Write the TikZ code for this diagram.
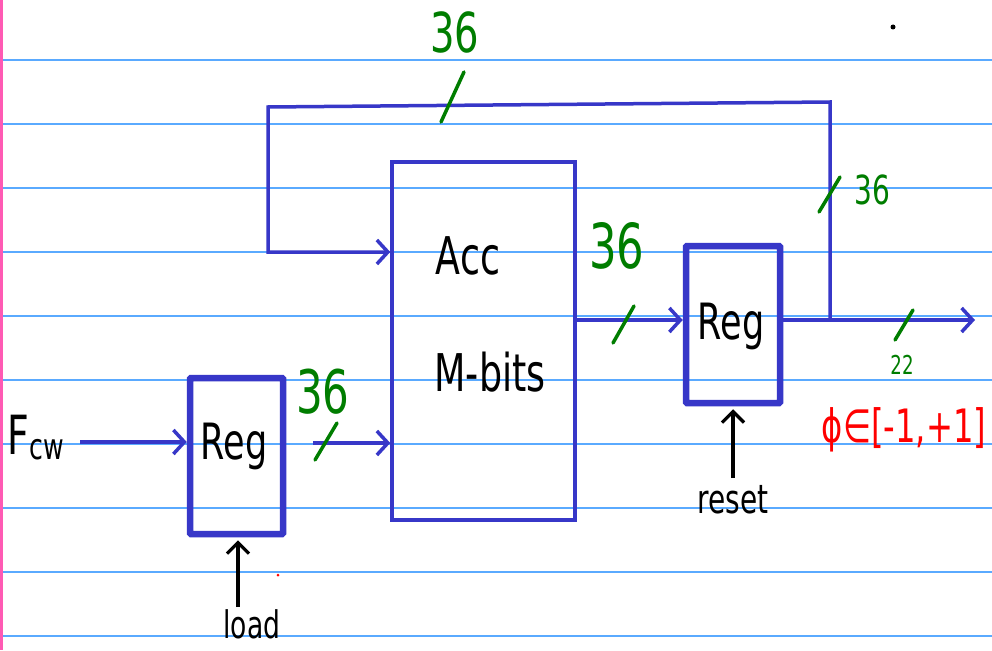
\documentclass[tikz,border=0pt]{standalone}
\usepackage{fontspec}
\setmainfont{DejaVu Sans}
\newfontfamily\hand[FakeStretch=0.7]{DejaVu Sans}
\usetikzlibrary{arrows.meta}
\definecolor{wire}{RGB}{55,55,200}
\definecolor{grn}{RGB}{0,125,0}
\definecolor{rulec}{RGB}{90,170,255}
\definecolor{marg}{RGB}{255,90,180}
\definecolor{redc}{RGB}{255,0,0}
\newcommand{\hs}[1]{\hand\fontsize{#1}{#1}\selectfont}
\begin{document}
\begin{tikzpicture}[x=1pt,y=-1pt,
  wirel/.style={draw=wire,line width=3.5pt},
  warrow/.style={wirel,-{Straight Barb[length=11pt,width=24pt]}},
  barrow/.style={draw=black,line width=3.2pt,-{Straight Barb[length=11pt,width=22pt]}},
  regbox/.style={draw=wire,line width=6.5pt,inner sep=0pt,rounded corners=1pt},
  accbox/.style={draw=wire,line width=3.5pt,inner sep=0pt},
  slash/.style={draw=grn,line width=3.5pt,line cap=round},
  lbl/.style={inner sep=0pt,text=black},
  glbl/.style={inner sep=0pt,text=grn}]
\useasboundingbox (0,0) rectangle (992,650);
\fill[white] (0,0) rectangle (992,650);
% ruled paper
\foreach \k in {0,...,9} \draw[rulec,line width=1.5pt] (0,{60+64*\k}) -- (992,{60+64*\k});
\draw[marg,line width=3pt] (1,0) -- (1,650);
% blocks
\node[accbox,minimum width=183pt,minimum height=358pt] (acc) at (483.5,341) {};
\node[regbox,minimum width=93pt,minimum height=156pt] (reg1) at (236.5,456) {};
\node[regbox,minimum width=94pt,minimum height=157pt] (reg2) at (733,324.5) {};
% texts
\node[lbl] (acct) at (468,256) {\hs{52}Acc};
\node[lbl] (mbits) at (490,372) {\hs{52}M-bits};
\node[lbl] (reg1t) at (234,446) {\hs{50}Reg};
\node[lbl] (reg2t) at (731,326) {\hs{50}Reg};
\node[lbl] (fcw) at (36,438) {\hs{54}F\raisebox{-5pt}{\hs{36}cw}};
\node[lbl] (load) at (252,624) {\hs{38}load};
\node[lbl] (reset) at (733,500) {\hs{40}reset};
\node[inner sep=0pt,text=redc] (phi) at (904,430) {\hs{46}ϕ∈[-1,+1]};
% width labels
\node[glbl] (w1) at (455,32) {\hs{55}36};
\node[glbl] (w2) at (872,190) {\hs{40}36};
\node[glbl] (w3) at (617,246) {\hs{62}36};
\node[glbl] (w4) at (323,392) {\hs{60}36};
\node[glbl] (w5) at (902,365) {\hs{26}22};
% coordinates
\coordinate (fcws) at (80,442);
\coordinate (a1) at (313,443);
\coordinate (j) at (830,320);
\coordinate (out) at (975,320);
\coordinate (tr) at (830,102);
\coordinate (tl) at (268,107);
\coordinate (bl) at (268,252);
\coordinate (lds) at (238,607);
\coordinate (rss) at (733,478);
% wires
\draw[warrow] (fcws) -- (reg1.west |- fcws);
\draw[warrow] (a1) -- (acc.west |- a1);
\draw[warrow] (acc.east |- j) -- (reg2.west |- j);
\draw[warrow] (reg2.east |- j) -- (out);
\draw[warrow] (j) -- (tr) -- (tl) -- (bl) -- (acc.west |- bl);
\draw[barrow,shorten >=3pt] (lds) -- (lds |- reg1.south);
\draw[barrow,shorten >=3pt] (rss) -- (rss |- reg2.south);
% slashes
\draw[slash] (441,122) -- (464,72);
\draw[slash] (819,212) -- (840,177);
\draw[slash] (613,343) -- (634,306);
\draw[slash] (895,340) -- (913,310);
\draw[slash] (315,460) -- (337,423);
% stray dots
\fill[black] (893,27) circle (2.5pt);
\fill[redc] (278,575) circle (1.5pt);
\end{tikzpicture}
\end{document}
